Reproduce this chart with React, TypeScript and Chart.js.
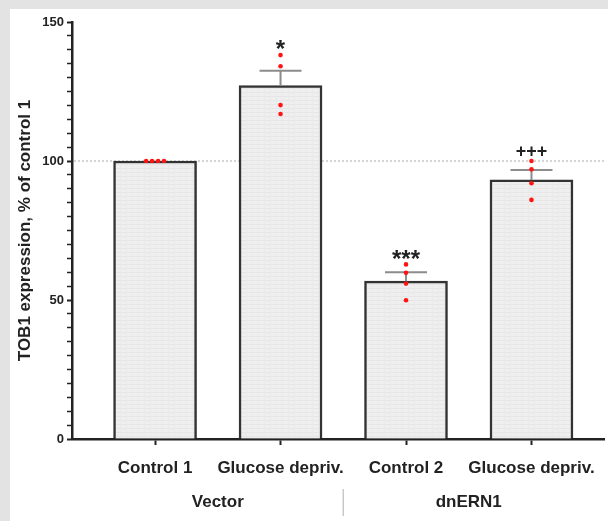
import React, { useEffect, useRef } from 'react';
import { Chart, registerables } from 'chart.js';

Chart.register(...registerables);

// ---- data ----
const categories = ['Control 1', 'Glucose depriv.', 'Control 2', 'Glucose depriv.'];
const groups = ['Vector', 'dnERN1'];
const groupCenters = [0.5, 2.5];
const groupDivider = 1.5;
const barMeans = [100, 127.1, 56.8, 93.2];
const errorUpper = [100, 132.5, 60.0, 96.8];
const dotsControl1 = [100, 100, 100, 100];
const dotsGlucose1 = [138.1, 134.1, 120.1, 116.9];
const dotsControl2 = [62.8, 59.8, 55.9, 49.9];
const dotsGlucose2 = [100, 97, 92, 86];
const dotJitterControl1 = [-0.071, -0.024, 0.024, 0.071];
const markers = ['', '*', '***', '+++'];
const markerValues = [0, 142, 66.5, 103.5];
const yMin = 0;
const yMax = 150;
const yMajorStep = 50;
const yMinorStep = 5;
const referenceValue = 100;
const xMin = -0.662;
const xMax = 3.578;
const yTitle = 'TOB1 expression, % of control 1';

const FONT = "'Liberation Sans', Arial, sans-serif";
const INK = '#222222';

function makePattern(): CanvasPattern | string {
  const c = document.createElement('canvas');
  c.width = 6;
  c.height = 4;
  const g = c.getContext('2d');
  if (!g) return '#ececec';
  g.fillStyle = '#efefef';
  g.fillRect(0, 0, 6, 4);
  g.fillStyle = '#e6e6e6';
  g.fillRect(0, 0, 6, 1);
  g.fillStyle = '#eaeaea';
  g.fillRect(0, 0, 1, 4);
  const p = g.createPattern(c, 'repeat');
  return p || '#ececec';
}

function drawCentered(ctx: CanvasRenderingContext2D, text: string, x: number, cy: number) {
  ctx.textBaseline = 'alphabetic';
  ctx.textAlign = 'center';
  const m = ctx.measureText(text);
  const asc = m.actualBoundingBoxAscent;
  const desc = m.actualBoundingBoxDescent;
  ctx.fillText(text, x, cy + (asc - desc) / 2);
}

const bgPlugin = {
  id: 'bgPanel',
  beforeDraw(chart: any) {
    const ctx = chart.ctx;
    ctx.save();
    ctx.fillStyle = '#e3e3e3';
    ctx.fillRect(0, 0, chart.width, chart.height);
    ctx.fillStyle = '#ffffff';
    ctx.fillRect(10, 9, chart.width - 10, chart.height - 9);
    ctx.restore();
  },
};

const refLinePlugin = {
  id: 'refLine',
  beforeDatasetsDraw(chart: any) {
    const { ctx, chartArea, scales } = chart;
    const y = scales.y.getPixelForValue(referenceValue);
    ctx.save();
    ctx.strokeStyle = '#b8b8b8';
    ctx.lineWidth = 1.2;
    ctx.setLineDash([2, 2]);
    ctx.beginPath();
    ctx.moveTo(chartArea.left + 2, y);
    ctx.lineTo(chartArea.right, y);
    ctx.stroke();
    ctx.restore();
  },
};

const errorBarPlugin = {
  id: 'errorBars',
  afterDatasetDraw(chart: any, args: any) {
    if (args.index !== 0) return;
    const { ctx, scales } = chart;
    ctx.save();
    ctx.strokeStyle = '#8c8c8c';
    ctx.lineWidth = 2;
    barMeans.forEach((m, i) => {
      const up = errorUpper[i];
      if (up <= m) return;
      const x = scales.x.getPixelForValue(i);
      const y0 = scales.y.getPixelForValue(m);
      const y1 = scales.y.getPixelForValue(up);
      ctx.beginPath();
      ctx.moveTo(x, y0);
      ctx.lineTo(x, y1);
      ctx.moveTo(x - 21, y1);
      ctx.lineTo(x + 21, y1);
      ctx.stroke();
    });
    ctx.restore();
  },
};

const annotationPlugin = {
  id: 'annotations',
  afterDraw(chart: any) {
    const { ctx, scales } = chart;
    ctx.save();
    ctx.fillStyle = INK;
    markers.forEach((t, i) => {
      if (!t) return;
      const x = scales.x.getPixelForValue(i);
      const y = scales.y.getPixelForValue(markerValues[i]);
      ctx.font = t.includes('*') ? `bold 24px ${FONT}` : `bold 18px ${FONT}`;
      drawCentered(ctx, t, x, y);
    });
    ctx.font = `bold 17px ${FONT}`;
    ctx.textAlign = 'center';
    ctx.textBaseline = 'alphabetic';
    groups.forEach((g, i) => {
      ctx.fillText(g, scales.x.getPixelForValue(groupCenters[i]), 507);
    });
    const xd = scales.x.getPixelForValue(groupDivider);
    ctx.strokeStyle = '#c8c8c8';
    ctx.lineWidth = 1.5;
    ctx.beginPath();
    ctx.moveTo(xd, 489);
    ctx.lineTo(xd, 516);
    ctx.stroke();
    ctx.restore();
  },
};

export default function App() {
  const ref = useRef<HTMLCanvasElement | null>(null);

  useEffect(() => {
    if (!ref.current) return;
    const pattern = makePattern();
    const dotSets = [dotsControl1, dotsGlucose1, dotsControl2, dotsGlucose2];
    const dots: { x: number; y: number }[] = [];
    dotSets.forEach((set, i) => {
      set.forEach((v, j) => {
        dots.push({ x: i + (i === 0 ? dotJitterControl1[j] : 0), y: v });
      });
    });

    const chart = new Chart(ref.current, {
      type: 'bar',
      data: {
        datasets: [
          {
            type: 'bar',
            data: barMeans.map((v, i) => ({ x: i, y: v })),
            backgroundColor: pattern as any,
            borderColor: '#333333',
            borderWidth: 2.5,
            borderSkipped: 'bottom',
            barThickness: 83,
            order: 1,
          } as any,
          {
            type: 'scatter',
            data: dots,
            backgroundColor: '#ff1414',
            borderWidth: 0,
            pointRadius: 2.3,
            showLine: false,
            order: 0,
          } as any,
        ],
      },
      options: {
        responsive: false,
        animation: false,
        devicePixelRatio: 1,
        layout: { padding: { top: 22, left: 0, right: 0, bottom: 0 } },
        plugins: {
          legend: { display: false },
          tooltip: { enabled: false },
        },
        scales: {
          x: {
            type: 'linear',
            min: xMin,
            max: xMax,
            offset: false,
            afterFit(scale: any) {
              scale.height = 82;
              scale.paddingLeft = 0;
              scale.paddingRight = 0;
            },
            afterBuildTicks(scale: any) {
              scale.ticks = categories.map((_, i) => ({ value: i }));
            },
            ticks: {
              autoSkip: false,
              maxRotation: 0,
              minRotation: 0,
              padding: 13,
              color: INK,
              font: { family: FONT, weight: 'bold', size: 17 },
              callback: (v: any) => categories[Math.round(Number(v))] ?? '',
            },
            grid: {
              offset: false,
              drawOnChartArea: false,
              drawTicks: true,
              tickLength: 6,
              tickColor: INK,
              tickWidth: 2,
            },
            border: { display: true, color: INK, width: 2.5 },
          },
          y: {
            type: 'linear',
            min: yMin,
            max: yMax,
            afterFit(scale: any) {
              scale.width = 72;
              scale.paddingTop = 0;
              scale.paddingBottom = 0;
            },
            ticks: {
              stepSize: yMinorStep,
              autoSkip: false,
              padding: 3,
              color: INK,
              font: { family: FONT, weight: 'bold', size: 13 },
              callback: (v: any) => (Number(v) % yMajorStep === 0 ? String(v) : ''),
            },
            grid: {
              offset: false,
              drawOnChartArea: false,
              drawTicks: true,
              tickLength: 5,
              tickColor: INK,
              tickWidth: (c: any) => (c.tick && c.tick.value % yMajorStep === 0 ? 2 : 1.5),
            },
            border: { display: true, color: INK, width: 2.5 },
            title: {
              display: true,
              text: yTitle,
              color: INK,
              font: { family: FONT, weight: 'bold', size: 17 },
              padding: { top: 15, bottom: 0 },
            },
          },
        },
      } as any,
      plugins: [bgPlugin, refLinePlugin, errorBarPlugin, annotationPlugin],
    });
    return () => chart.destroy();
  }, []);

  return (
    <div style={{ position: 'fixed', left: 0, top: 0, width: 608, height: 521 }}>
      <canvas ref={ref} width={608} height={521} style={{ display: 'block', width: 608, height: 521 }} />
    </div>
  );
}
